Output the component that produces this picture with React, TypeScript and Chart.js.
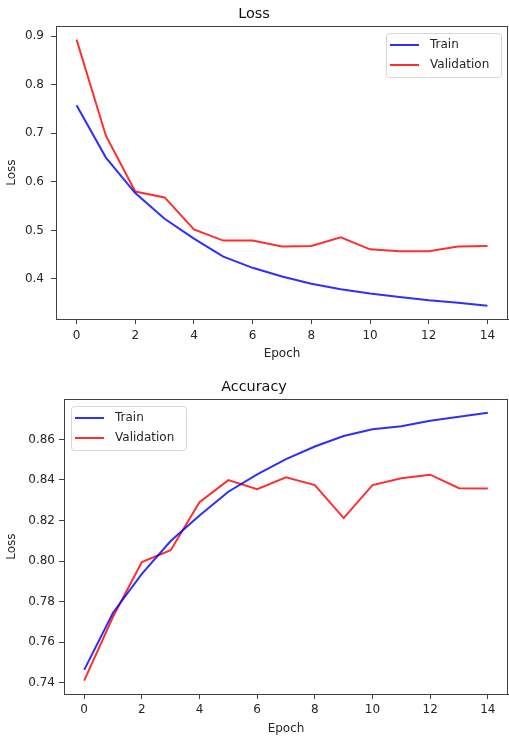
import React, { useEffect, useRef } from "react";
import { Chart, registerables } from "chart.js";

Chart.register(...registerables);

const epochs = [0, 1, 2, 3, 4, 5, 6, 7, 8, 9, 10, 11, 12, 13, 14];
const trainLoss = [0.758, 0.65, 0.577, 0.524, 0.483, 0.446, 0.423, 0.405, 0.39, 0.379, 0.37, 0.363, 0.356, 0.351, 0.345];
const valLoss = [0.893, 0.695, 0.58, 0.568, 0.502, 0.479, 0.479, 0.467, 0.468, 0.486, 0.461, 0.457, 0.457, 0.467, 0.468];
const trainAcc = [0.7463, 0.7745, 0.7937, 0.8099, 0.8225, 0.8342, 0.8428, 0.8503, 0.8565, 0.8617, 0.865, 0.8665, 0.8692, 0.8712, 0.8732];
const valAcc = [0.741, 0.7725, 0.7995, 0.8053, 0.829, 0.8399, 0.8355, 0.8413, 0.8375, 0.8212, 0.8375, 0.8408, 0.8426, 0.8359, 0.8358];
const xTicks = [0, 2, 4, 6, 8, 10, 12, 14];
const lossTicks = [0.4, 0.5, 0.6, 0.7, 0.8, 0.9];
const accTicks = [0.74, 0.76, 0.78, 0.8, 0.82, 0.84, 0.86];

const FONT = '"DejaVu Sans", sans-serif';
const TEXT = "#262626";
const AXIS = "#404040";
const BLUE = "rgba(0,0,255,0.82)";
const RED = "rgba(255,0,0,0.82)";

function limits(a: number[], b: number[]) {
  const all = a.concat(b);
  const lo = Math.min(...all);
  const hi = Math.max(...all);
  const m = (hi - lo) * 0.05;
  return [lo - m, hi + m];
}

function framePlugin(side: "left" | "right") {
  return {
    id: "frameLegend",
    afterDatasetsDraw(chart: any) {
      const { ctx, chartArea } = chart;
      ctx.save();
      ctx.strokeStyle = AXIS;
      ctx.lineWidth = 1;
      ctx.strokeRect(
        Math.round(chartArea.left) + 0.5,
        Math.round(chartArea.top) + 0.5,
        Math.round(chartArea.right - chartArea.left) - 1,
        Math.round(chartArea.bottom - chartArea.top)
      );
      ctx.font = `12px ${FONT}`;
      const items = chart.data.datasets.map((d: any) => ({ label: d.label, color: d.borderColor }));
      const textW = Math.max(...items.map((i: any) => ctx.measureText(i.label).width));
      const w = Math.round(44 + textW + 12);
      const h = 44;
      const x = side === "right" ? Math.round(chartArea.right - 7 - w) : Math.round(chartArea.left + 7);
      const y = Math.round(chartArea.top + 7);
      ctx.beginPath();
      ctx.roundRect(x + 0.5, y + 0.5, w, h, 3);
      ctx.fillStyle = "rgba(255,255,255,0.8)";
      ctx.fill();
      ctx.strokeStyle = "#d6d6d6";
      ctx.lineWidth = 1;
      ctx.stroke();
      items.forEach((it: any, i: number) => {
        const cy = y + 12 + i * 20;
        ctx.beginPath();
        ctx.moveTo(x + 4, cy);
        ctx.lineTo(x + 33, cy);
        ctx.strokeStyle = it.color;
        ctx.lineWidth = 2;
        ctx.stroke();
        ctx.fillStyle = TEXT;
        ctx.textBaseline = "middle";
        ctx.textAlign = "left";
        ctx.fillText(it.label, x + 44, cy);
      });
      ctx.restore();
    },
  };
}

type Props = {
  title: string;
  train: number[];
  val: number[];
  yTicks: number[];
  decimals: number;
  side: "left" | "right";
  top: number;
  height: number;
  yAxisW: number;
  yTickPad: number;
  xAxisH: number;
  xTickPad: number;
  xTitlePad: number;
};

function LineChart(p: Props) {
  const ref = useRef<HTMLCanvasElement>(null);
  useEffect(() => {
    if (!ref.current) return;
    const [ymin, ymax] = limits(p.train, p.val);
    const font = { family: FONT, size: 12 };
    const chart = new Chart(ref.current, {
      type: "line",
      data: {
        datasets: [
          {
            label: "Train",
            data: epochs.map((e, i) => ({ x: e, y: p.train[i] })),
            borderColor: BLUE,
            backgroundColor: BLUE,
            borderWidth: 2,
            pointRadius: 0,
            tension: 0,
          },
          {
            label: "Validation",
            data: epochs.map((e, i) => ({ x: e, y: p.val[i] })),
            borderColor: RED,
            backgroundColor: RED,
            borderWidth: 2,
            pointRadius: 0,
            tension: 0,
          },
        ],
      },
      options: {
        animation: false,
        responsive: false,
        devicePixelRatio: 1,
        layout: { padding: { left: 0, right: 1, top: 0, bottom: 0 } },
        plugins: {
          legend: { display: false },
          tooltip: { enabled: false },
          title: {
            display: true,
            text: p.title,
            color: "#111",
            font: { family: FONT, size: 14.4, weight: "normal" },
            padding: { top: 6, bottom: 3 },
          },
        },
        scales: {
          x: {
            type: "linear",
            min: -0.7,
            max: 14.7,
            afterBuildTicks: (s: any) => {
              s.ticks = xTicks.map((v) => ({ value: v }));
            },
            afterFit: (s: any) => {
              s.height = p.xAxisH;
            },
            ticks: {
              font,
              color: TEXT,
              padding: p.xTickPad,
              maxRotation: 0,
              autoSkip: false,
              callback: (v: any) => String(v),
            },
            grid: { drawOnChartArea: false, drawTicks: true, tickLength: 5, color: AXIS },
            border: { display: true, color: AXIS, width: 1 },
            title: {
              display: true,
              text: "Epoch",
              color: TEXT,
              font,
              padding: { top: 0, bottom: p.xTitlePad },
            },
          },
          y: {
            type: "linear",
            min: ymin,
            max: ymax,
            afterBuildTicks: (s: any) => {
              s.ticks = p.yTicks.map((v) => ({ value: v }));
            },
            afterFit: (s: any) => {
              s.width = p.yAxisW;
            },
            ticks: {
              font,
              color: TEXT,
              padding: p.yTickPad,
              autoSkip: false,
              callback: (v: any) => Number(v).toFixed(p.decimals),
            },
            grid: { drawOnChartArea: false, drawTicks: true, tickLength: 5, color: AXIS },
            border: { display: true, color: AXIS, width: 1 },
            title: {
              display: true,
              text: "Loss",
              color: TEXT,
              font,
              padding: { top: 5, bottom: 0 },
            },
          },
        },
      } as any,
      plugins: [framePlugin(p.side)],
    });
    return () => chart.destroy();
  }, []);
  return (
    <canvas
      ref={ref}
      width={509}
      height={p.height}
      style={{ position: "absolute", left: 0, top: p.top, width: 509, height: p.height }}
    />
  );
}

export default function App() {
  return (
    <div
      style={{
        position: "fixed",
        left: 0,
        top: 0,
        width: 509,
        height: 741,
        background: "#fff",
        overflow: "hidden",
      }}
    >
      <LineChart
        title="Loss"
        train={trainLoss}
        val={valLoss}
        yTicks={lossTicks}
        decimals={1}
        side="right"
        top={0}
        height={365}
        yAxisW={56}
        yTickPad={7}
        xAxisH={46}
        xTickPad={5}
        xTitlePad={4}
      />
      <LineChart
        title="Accuracy"
        train={trainAcc}
        val={valAcc}
        yTicks={accTicks}
        decimals={2}
        side="left"
        top={373}
        height={368}
        yAxisW={64}
        yTickPad={4}
        xAxisH={47}
        xTickPad={4}
        xTitlePad={5}
      />
    </div>
  );
}
